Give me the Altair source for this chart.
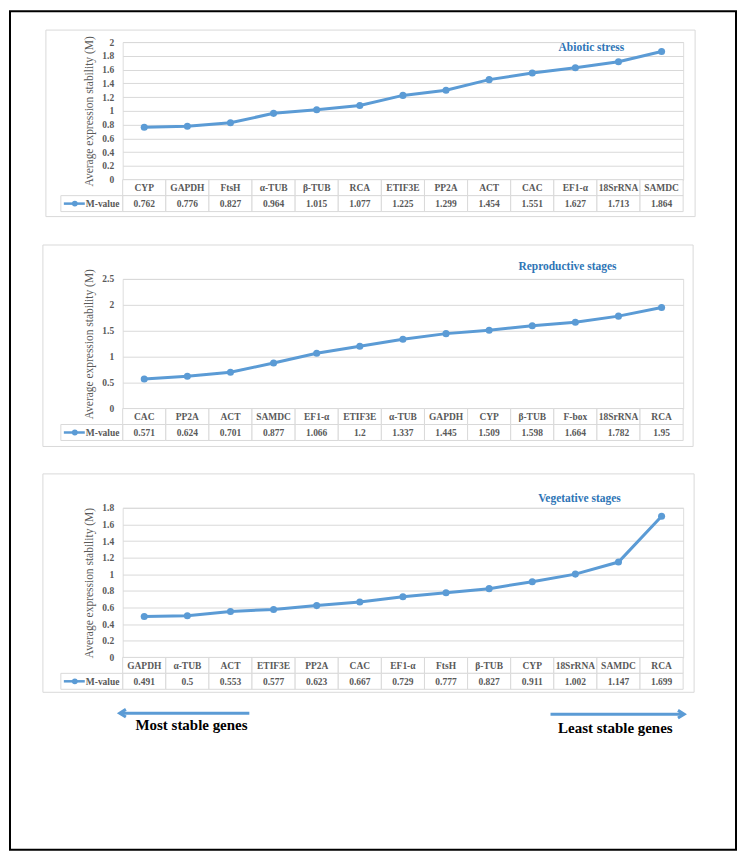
import altair as alt
import pandas as pd

FONT = "Liberation Serif"
BLUE = "#5B9BD5"
TITLE_BLUE = "#2E75B6"
GREY = "#595959"
GRID = "#D9D9D9"

abiotic_genes = ["CYP", "GAPDH", "FtsH", "α-TUB", "β-TUB", "RCA", "ETIF3E", "PP2A", "ACT", "CAC", "EF1-α", "18SrRNA", "SAMDC"]
abiotic_m = [0.762, 0.776, 0.827, 0.964, 1.015, 1.077, 1.225, 1.299, 1.454, 1.551, 1.627, 1.713, 1.864]
abiotic_ticks = [0, 0.2, 0.4, 0.6, 0.8, 1, 1.2, 1.4, 1.6, 1.8, 2]

repro_genes = ["CAC", "PP2A", "ACT", "SAMDC", "EF1-α", "ETIF3E", "α-TUB", "GAPDH", "CYP", "β-TUB", "F-box", "18SrRNA", "RCA"]
repro_m = [0.571, 0.624, 0.701, 0.877, 1.066, 1.2, 1.337, 1.445, 1.509, 1.598, 1.664, 1.782, 1.95]
repro_ticks = [0, 0.5, 1, 1.5, 2, 2.5]

veg_genes = ["GAPDH", "α-TUB", "ACT", "ETIF3E", "PP2A", "CAC", "EF1-α", "FtsH", "β-TUB", "CYP", "18SrRNA", "SAMDC", "RCA"]
veg_m = [0.491, 0.5, 0.553, 0.577, 0.623, 0.667, 0.729, 0.777, 0.827, 0.911, 1.002, 1.147, 1.699]
veg_ticks = [0, 0.2, 0.4, 0.6, 0.8, 1, 1.2, 1.4, 1.6, 1.8]

panel_titles = ["Abiotic stress", "Reproductive stages", "Vegetative stages"]
y_title = "Average expression stability  (M)"
legend_label = "M-value"
direction_labels = ["Most stable genes", "Least stable genes"]

W = 562
FS = 9.5


def one(**kw):
    return alt.Chart(pd.DataFrame([kw]))


def panel(genes, vals, ticks, ymax, h, title, tx, ty, box):
    df = pd.DataFrame({"gene": genes, "M": vals})
    base = alt.Chart(df)
    xs = alt.Scale(domain=genes, paddingInner=0, paddingOuter=0)
    ys = alt.Scale(domain=[0, ymax], nice=False)
    xc = alt.X("gene:N", scale=xs, axis=None, bandPosition=0.5)
    xr = alt.X("gene:N", scale=xs, axis=None)
    yaxis = alt.Axis(values=ticks, tickCount=len(ticks), labelOverlap=False, format="~g",
                     title=y_title, grid=True, gridColor=GRID,
                     domain=False, ticks=False, labelFont=FONT, labelFontSize=FS,
                     labelFontWeight="bold", labelColor=GREY, labelPadding=9,
                     titleFont=FONT, titleFontSize=11.5, titleFontWeight="normal",
                     titleColor=GREY, titlePadding=7)

    frame = one(a=1).mark_rect(fillOpacity=0, stroke=GRID, strokeWidth=1).encode(
        x=alt.value(box[0]), x2=alt.value(box[1]), y=alt.value(box[2]), y2=alt.value(box[3]))

    row1 = base.mark_rect(fill="white", stroke=GRID, strokeWidth=1).encode(
        x=xr, y=alt.value(h), y2=alt.value(h + 16))
    row2 = base.mark_rect(fill="white", stroke=GRID, strokeWidth=1).encode(
        x=xr, y=alt.value(h + 16), y2=alt.value(h + 32))
    legcell = one(a=1).mark_rect(fill="white", stroke=GRID, strokeWidth=1).encode(
        x=alt.value(-62), x2=alt.value(0), y=alt.value(h + 16), y2=alt.value(h + 32))
    legline = one(a=1).mark_rule(color=BLUE, strokeWidth=2.5).encode(
        x=alt.value(-59), x2=alt.value(-38), y=alt.value(h + 24))
    legdot = one(a=1).mark_point(filled=True, color=BLUE, size=34, opacity=1).encode(
        x=alt.value(-48), y=alt.value(h + 24))
    legtext = one(t=legend_label).mark_text(font=FONT, fontSize=FS, fontWeight="bold", color=GREY,
                                            align="left", baseline="middle").encode(
        text="t:N", x=alt.value(-37), y=alt.value(h + 24.5))

    names = base.mark_text(font=FONT, fontSize=FS, fontWeight="bold", color=GREY,
                           baseline="middle").encode(x=xc, y=alt.value(h + 8.5), text="gene:N")
    values = base.mark_text(font=FONT, fontSize=FS, fontWeight="bold", color=GREY,
                            baseline="middle").encode(x=xc, y=alt.value(h + 24.5),
                                                      text=alt.Text("M:Q", format="~g"))

    line = base.mark_line(color=BLUE, strokeWidth=3).encode(
        x=xc, y=alt.Y("M:Q", scale=ys, axis=yaxis))
    pts = base.mark_point(filled=True, color=BLUE, size=50, opacity=1).encode(
        x=xc, y=alt.Y("M:Q", scale=ys))

    ttl = one(t=title).mark_text(font=FONT, fontSize=11.5, fontWeight="bold", color=TITLE_BLUE,
                                 baseline="middle").encode(text="t:N", x=alt.value(tx), y=alt.value(ty))

    return [frame, row1, row2, legcell, names, values, legline, legdot, legtext, line, pts, ttl], h


l1, h1 = panel(abiotic_genes, abiotic_m, abiotic_ticks, 2, 138, panel_titles[0], 470, 6, (-77, 574, -12, 175))
border = one(a=1).mark_rect(fillOpacity=0, stroke="black", strokeWidth=2).encode(
    x=alt.value(-113), x2=alt.value(615), y=alt.value(-31), y2=alt.value(810))
p1 = alt.layer(border, *l1).properties(width=W, height=h1)

l2, h2 = panel(repro_genes, repro_m, repro_ticks, 2.5, 130, panel_titles[1], 446, -12, (-80, 572, -34, 168))
p2 = alt.layer(*l2).properties(width=W, height=h2)

l3, h3 = panel(veg_genes, veg_m, veg_ticks, 1.8, 150, panel_titles[2], 458, -9, (-80, 573, -34, 185))
arrow_l = one(a=1).mark_rule(color=BLUE, strokeWidth=3).encode(
    x=alt.value(-2), x2=alt.value(127), y=alt.value(206))
head_l = one(a=1).mark_point(shape="M1.6,-1L0,0L1.6,1", filled=False, color=BLUE, strokeWidth=3,
                             size=60, opacity=1).encode(x=alt.value(-3), y=alt.value(206))
arrow_r = one(a=1).mark_rule(color=BLUE, strokeWidth=3).encode(
    x=alt.value(429), x2=alt.value(562), y=alt.value(207))
head_r = one(a=1).mark_point(shape="M-1.6,-1L0,0L-1.6,1", filled=False, color=BLUE, strokeWidth=3,
                             size=60, opacity=1).encode(x=alt.value(563), y=alt.value(207))
txt_l = one(t=direction_labels[0]).mark_text(font=FONT, fontSize=15, fontWeight="bold", color="black",
                                             baseline="middle").encode(text="t:N", x=alt.value(69), y=alt.value(218))
txt_r = one(t=direction_labels[1]).mark_text(font=FONT, fontSize=15, fontWeight="bold", color="black",
                                             baseline="middle").encode(text="t:N", x=alt.value(494), y=alt.value(221))
p3 = alt.layer(*l3, arrow_l, head_l, arrow_r, head_r, txt_l, txt_r).properties(width=W, height=h3)

chart = alt.vconcat(p1, p2, p3, spacing=99.5, bounds="flush").properties(padding=0).configure_view(
    strokeWidth=0).configure(background="white")

chart.save("out.html", embed_options={"renderer": "svg", "actions": False})
